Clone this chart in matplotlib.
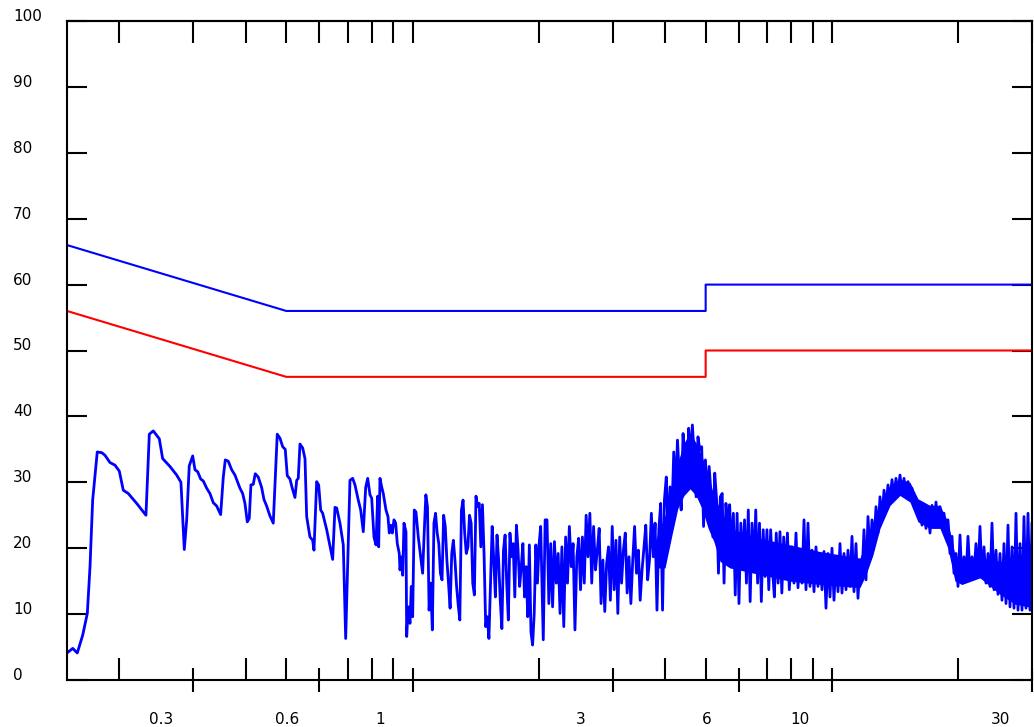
import matplotlib
matplotlib.use('Agg')
import matplotlib.pyplot as plt
import matplotlib.transforms as mtransforms
from matplotlib.ticker import NullFormatter, NullLocator
import numpy as np

# limit lines, level vs frequency (MHz)
limit_freq = [0.15, 0.5, 5.0, 5.0, 30.0]
qp_limit = [66, 56, 56, 60, 60]
avg_limit = [56, 46, 46, 50, 50]

# start of the scan, read point by point
scan_freq_a = [
    0.150, 0.1548, 0.1587, 0.1635, 0.1677, 0.1702, 0.1727, 0.1771, 0.1815, 0.1848,
    0.1899, 0.1952, 0.1999, 0.2043, 0.2100, 0.2199, 0.2314, 0.2357, 0.2409, 0.2490,
    0.2536, 0.2640, 0.2739, 0.2804, 0.2856, 0.2894, 0.2935, 0.2991, 0.3029, 0.3074,
    0.3125, 0.3170, 0.3230, 0.3288, 0.3349, 0.3412, 0.3487, 0.3538, 0.3577, 0.3636,
    0.3705, 0.3772, 0.3877, 0.3935, 0.3985, 0.4036, 0.4080, 0.4118, 0.4171, 0.4217,
    0.4287, 0.4368, 0.4423, 0.4489, 0.4571, 0.4655, 0.4758, 0.4829, 0.4902, 0.4972,
    0.5027, 0.5102, 0.5167, 0.5244, 0.5294, 0.5340, 0.5390, 0.5471, 0.5541, 0.5592,
    0.5694, 0.5780, 0.5821, 0.5908, 0.5973, 0.6039, 0.6106, 0.6242, 0.6450, 0.6533,
    0.6594, 0.6714, 0.6837, 0.6928, 0.7093, 0.7199, 0.7291, 0.7424, 0.7523, 0.7631,
    0.7732, 0.7818, 0.7917, 0.7991, 0.8092, 0.8182, 0.8259, 0.8304, 0.8363, 0.8442,
    0.8516, 0.8643, 0.8739, 0.8802, 0.8869, 0.8948, 0.9032, 0.9116, 0.9197, 0.9298,
    0.9334, 0.9422, 0.9474, 0.9541, 0.9647, 0.9684, 0.9769, 0.9861, 0.9932, 1.0008,
    1.0097, 1.0191, 1.0321, 1.0458,
]
scan_level_a = [
    4.1, 4.8, 4.1, 6.8, 10.1, 17.2, 27.3, 34.6, 34.5, 34.1,
    33.0, 32.6, 31.7, 28.8, 28.3, 26.8, 25.0, 37.3, 37.8, 36.6,
    33.6, 32.4, 31.1, 30.0, 19.8, 24.3, 32.5, 34.0, 31.9, 31.6,
    30.5, 30.2, 29.1, 28.3, 26.9, 26.4, 25.1, 30.8, 33.4, 33.2,
    31.9, 31.1, 29.1, 28.3, 26.8, 24.0, 24.5, 29.6, 29.7, 31.3,
    30.8, 29.2, 27.4, 26.4, 24.9, 23.8, 37.3, 36.7, 35.4, 35.0,
    31.0, 30.5, 29.1, 27.7, 30.3, 30.6, 35.8, 35.2, 33.6, 24.8,
    21.7, 21.2, 19.7, 30.1, 29.6, 25.8, 25.3, 22.8, 18.3, 26.2,
    26.1, 23.8, 20.5, 6.3, 30.3, 30.6, 29.6, 27.3, 25.8, 22.5,
    29.2, 30.6, 28.1, 27.6, 21.7, 20.5, 27.9, 20.2, 30.6, 29.3,
    28.3, 25.8, 24.8, 22.3, 23.5, 22.3, 24.3, 23.8, 20.7, 19.2,
    16.7, 18.7, 15.9, 23.8, 22.5, 6.6, 11.1, 8.6, 14.2, 9.6,
    25.8, 25.5, 21.7, 18.7,
]

# rest of the sweep: log-spaced points between the band edges
sweep_b = (1.057, 2.021)
level_b = [
    16.2, 22.5, 28.1, 26.3, 10.6, 14.7, 7.6, 23.8, 25.3, 22.3,
    20.7, 16.2, 15.2, 25.0, 23.3, 18.2, 14.7, 10.9, 19.2, 21.2,
    18.2, 14.2, 11.4, 9.1, 25.8, 27.3, 22.3, 19.2, 20.2, 25.0,
    23.8, 14.7, 12.9, 27.9, 26.3, 26.8, 20.2, 26.6, 19.0, 8.1,
    9.6, 6.3, 14.7, 23.3, 18.2, 12.6, 22.0, 18.2, 12.1, 7.8,
    19.7, 22.0, 14.7, 9.1, 22.3, 18.7, 20.7, 12.6, 23.5, 19.7,
    14.2, 17.2, 20.7, 12.6, 17.2, 9.6, 20.5, 7.3, 5.3, 10.1,
    20.5, 14.7, 20.5, 23.3,
]

sweep_c = (2.050, 7.914)
level_c = [
    6.1, 24.3, 24.3, 11.6, 20.7, 11.1, 21.0, 14.7, 19.2, 10.1,
    20.2, 8.1, 21.7, 14.7, 23.3, 17.2, 20.7, 7.6, 18.7, 21.5,
    13.7, 21.7, 14.7, 25.0, 18.7, 25.3, 14.7, 23.3, 16.7, 19.7,
    23.0, 11.6, 18.2, 10.4, 17.7, 20.2, 12.1, 23.3, 13.7, 21.2,
    10.1, 21.7, 14.7, 19.7, 22.3, 13.2, 18.7, 11.6, 18.2, 23.3,
    16.2, 19.7, 12.1, 16.7, 20.0, 23.5, 15.2, 18.2, 25.3, 18.7,
    23.8, 10.6, 22.8, 26.8, 10.6, 27.3, 30.8, 21.7, 29.3, 24.8,
    34.6, 28.3, 36.4, 30.8, 25.8, 37.4, 32.4, 28.8, 38.2, 33.6,
    38.7, 33.9, 27.8, 36.9, 34.9, 35.4, 23.3, 33.4, 27.8, 32.4,
    28.3, 21.7, 31.4, 27.3, 16.2, 27.8, 28.3, 14.7, 26.8, 23.3,
    26.6, 19.2, 25.3, 12.9, 25.3, 11.6, 23.8, 17.2, 24.3, 14.7,
    25.8, 11.9, 23.8, 16.7, 25.8, 14.7, 23.8, 11.9, 22.8, 15.7,
    22.8, 13.7, 22.8, 16.7, 12.6, 22.3, 14.7, 22.5, 13.2, 21.7,
    15.7, 22.3, 13.7,
]

sweep_d = (8.032, 30.0)
level_d = [
    20.2, 14.7, 22.3, 14.0, 19.7, 14.7, 24.3, 13.7, 23.8, 14.2,
    19.7, 13.4, 20.2, 14.2, 19.2, 13.7, 19.5, 10.9, 19.2, 12.6,
    20.0, 12.1, 18.7, 13.4, 20.7, 13.2, 19.2, 13.7, 19.7, 14.2,
    21.8, 13.4, 20.7, 12.4, 18.2, 15.7, 22.8, 15.2, 24.8, 18.7,
    24.3, 20.7, 26.3, 22.3, 27.8, 24.3, 28.8, 26.3, 29.6, 27.3,
    30.4, 27.8, 30.6, 28.3, 31.1, 28.3, 30.6, 28.0, 30.1, 27.5,
    29.1, 26.3, 27.3, 24.8, 26.0, 23.5, 26.0, 23.0, 26.3, 22.3,
    26.5, 23.3, 27.0, 23.5, 26.3, 23.3, 25.3, 21.8, 24.3, 19.2,
    21.8, 16.2, 19.2, 14.2, 22.0, 14.7, 18.7, 15.7, 21.8, 16.0,
    18.7, 16.2, 20.7, 15.7, 23.3, 15.5, 20.2, 14.7, 19.2, 14.2,
    23.8, 13.7, 19.7, 13.0, 19.2, 12.1, 20.7, 11.6, 23.5, 11.1,
    20.2, 10.9, 25.3, 10.6, 20.7, 10.6, 24.8, 10.9, 25.3, 10.6,
    23.8,
]

# solid core of the dense sweep (where the trace fills in completely)
band_freq = [3.785, 4.00, 4.155, 4.29, 4.44, 4.59, 4.74, 4.90, 5.07, 5.23,
             5.41, 5.71, 6.74, 7.94, 9.36, 11.66, 12.06, 12.53, 13.02, 13.76,
             14.53, 15.35, 16.04, 17.13, 18.10, 18.91, 19.65, 20.43, 22.55, 25.16,
             27.33, 30.0]
band_lo = [17, 17, 22, 26, 28, 29, 28, 26, 23, 21,
           18, 17, 16, 15, 14.5, 14, 16, 19, 23, 26.5,
           28, 27, 24, 23, 23, 20, 15, 14.5, 15.5, 13,
           11.5, 11]
band_hi = [21, 25, 29, 33, 36, 37.5, 36, 34, 31, 28,
           26, 23, 21.5, 20.5, 19.5, 18.5, 21, 24, 27, 29.5,
           30.5, 30, 27.5, 26.5, 26.5, 24, 19, 18, 18.5, 18,
           18, 18]

y_ticks = list(range(0, 101, 10))
x_major = [0.3, 0.6, 1, 3, 6, 10, 30]
x_major_labels = ['0.3', '0.6', '1', '3', '6', '10', '30']
x_minor = [0.2, 0.4, 0.5, 0.7, 0.8, 0.9, 2, 4, 5, 7, 8, 9, 20]

trace_freq = np.concatenate([
    scan_freq_a,
    np.geomspace(*sweep_b, len(level_b)),
    np.geomspace(*sweep_c, len(level_c)),
    np.geomspace(*sweep_d, len(level_d)),
])
trace_level = np.concatenate([scan_level_a, level_b, level_c, level_d])

fig = plt.figure(figsize=(10.34, 7.27), dpi=100)
ax = fig.add_axes([67 / 1034, 47 / 727, 965 / 1034, 659 / 727])

ax.plot(limit_freq, qp_limit, color='#0000ff', linewidth=1.5)
ax.plot(limit_freq, avg_limit, color='#ff0000', linewidth=1.5)
ax.fill_between(band_freq, band_lo, band_hi, color='#0000ff', linewidth=0)
ax.plot(trace_freq, trace_level, color='#0000ff', linewidth=2.0)

ax.set_xscale('log')
ax.set_xlim(0.15, 30)
ax.set_ylim(0, 100)

for sp in ax.spines.values():
    sp.set_linewidth(1.5)
    sp.set_color('black')

# y axis: inward ticks both sides, labels left-aligned at the far left
ax.set_yticks(y_ticks)
ax.set_yticklabels([str(v) for v in y_ticks])
ax.tick_params(axis='y', which='major', direction='in', length=14.4, width=1.5,
               left=True, right=True, pad=39, labelsize=11)
ax.yaxis.set_minor_locator(NullLocator())
up = mtransforms.ScaledTranslation(0, 0.06, fig.dpi_scale_trans)
for lab in ax.get_yticklabels():
    lab.set_horizontalalignment('left')
    lab.set_transform(lab.get_transform() + up)

# x axis bottom: crossing major ticks, inward minor ticks
ax.set_xticks(x_major)
ax.set_xticklabels(x_major_labels)
ax.set_xticks(x_minor, minor=True)
ax.xaxis.set_minor_formatter(NullFormatter())
ax.tick_params(axis='x', which='major', direction='inout', length=17.3, width=1.5,
               top=False, pad=14.4, labelsize=11)
ax.tick_params(axis='x', which='minor', direction='in', length=15.8, width=1.5, top=False)
left = mtransforms.ScaledTranslation(-0.32, 0, fig.dpi_scale_trans)
for lab in ax.get_xticklabels():
    lab.set_transform(lab.get_transform() + left)

# top: all ticks inward, no labels
top = ax.secondary_xaxis('top')
top.set_xticks(x_major + x_minor)
top.set_xticks([], minor=True)
top.tick_params(axis='x', which='major', direction='in', length=15.8, width=1.5,
                labeltop=False)
top.spines['top'].set_linewidth(1.5)

fig.savefig('out.png', dpi=100)
